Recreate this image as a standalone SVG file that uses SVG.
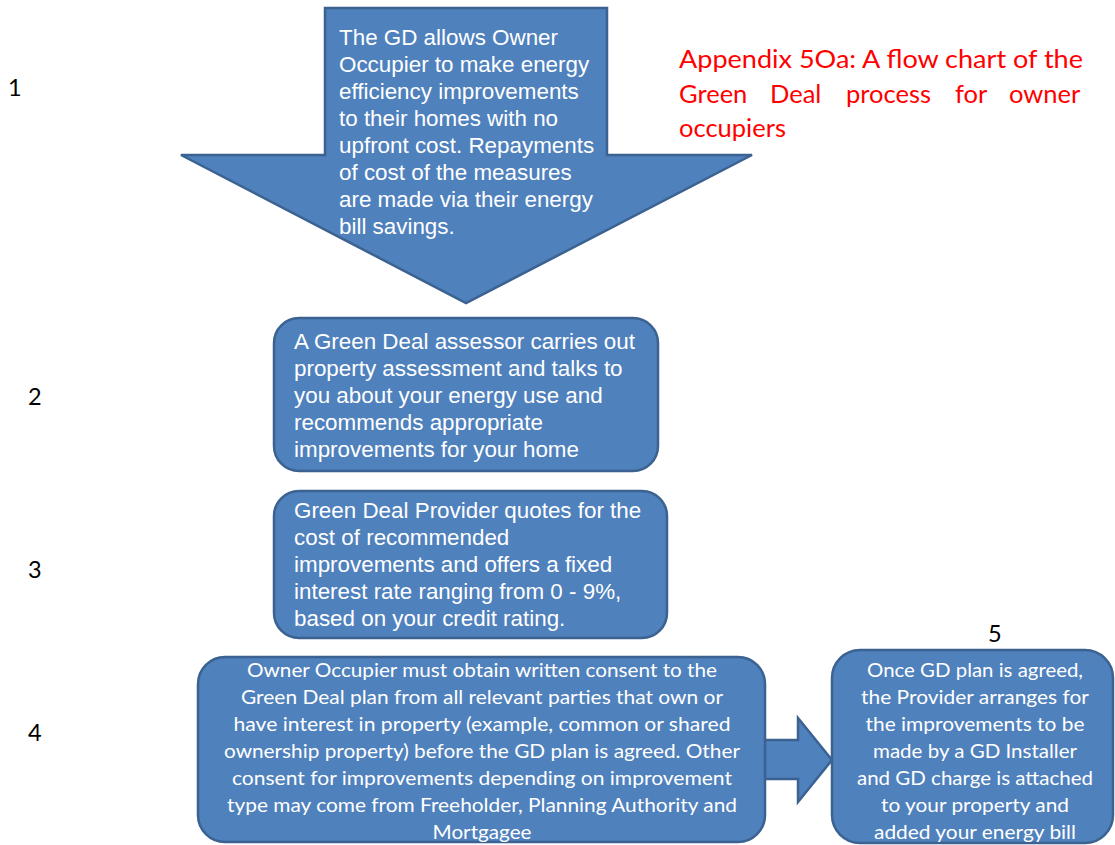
<svg xmlns="http://www.w3.org/2000/svg" width="1115" height="845" viewBox="0 0 1115 845">
<style>
.shape{fill:#4F81BD;stroke:#3B6291;stroke-width:2.5;stroke-linejoin:miter}
.ta{font-family:"Liberation Sans",Arial,sans-serif;font-size:22.4px;fill:#FFFFFF}
.tc{font-family:Lato,"Noto Sans",sans-serif;font-size:20px;fill:#FFFFFF;text-anchor:middle}
.num{font-family:Lato,"Noto Sans",sans-serif;font-size:23.5px;fill:#000000}
.title{font-family:Lato,"Noto Sans",sans-serif;font-size:25.5px;fill:#FF0000}
</style>
<rect width="1115" height="845" fill="#FFFFFF"/>
<g id="labels">
<text class="num" x="8" y="96">1</text>
<text class="num" x="28" y="405">2</text>
<text class="num" x="28" y="578">3</text>
<text class="num" x="28" y="741">4</text>
<text class="num" x="988" y="642">5</text>
</g>
<g id="title">
<text class="title" x="679" y="68" textLength="404" lengthAdjust="spacingAndGlyphs">Appendix 5Oa: A flow chart of the</text>
<text class="title" y="103"><tspan x="679">Green</tspan><tspan x="770">Deal</tspan><tspan x="846">process</tspan><tspan x="955">for</tspan><tspan x="1009">owner</tspan></text>
<text class="title" x="679" y="137">occupiers</text>
</g>
<g id="connectors">
<polygon class="shape" points="762,740 798,740 798,718 832,760 798,802 798,779 762,779"/>
</g>
<g id="node1">
<polygon class="shape" points="325,8 607,8 607,155 752,155 466,303 181,155 325,155"/>
<text class="ta">
<tspan x="339" y="45">The GD allows Owner</tspan>
<tspan x="339" y="72">Occupier to make energy</tspan>
<tspan x="339" y="99">efficiency improvements</tspan>
<tspan x="339" y="126">to their homes with no</tspan>
<tspan x="339" y="153">upfront cost. Repayments</tspan>
<tspan x="339" y="180">of cost of the measures</tspan>
<tspan x="339" y="207">are made via their energy</tspan>
<tspan x="339" y="234">bill savings.</tspan>
</text>
</g>
<g id="node2">
<rect class="shape" x="274" y="318" width="384" height="153" rx="25"/>
<text class="ta">
<tspan x="294" y="349">A Green Deal assessor carries out</tspan>
<tspan x="294" y="376">property assessment and talks to</tspan>
<tspan x="294" y="403">you about your energy use and</tspan>
<tspan x="294" y="430">recommends appropriate</tspan>
<tspan x="294" y="457">improvements for your home</tspan>
</text>
</g>
<g id="node3">
<rect class="shape" x="274" y="491" width="393" height="147" rx="25"/>
<text class="ta">
<tspan x="294" y="518">Green Deal Provider quotes for the</tspan>
<tspan x="294" y="545">cost of recommended</tspan>
<tspan x="294" y="572">improvements and offers a fixed</tspan>
<tspan x="294" y="599">interest rate ranging from 0 - 9%,</tspan>
<tspan x="294" y="626">based on your credit rating.</tspan>
</text>
</g>
<g id="node4">
<rect class="shape" x="198" y="657" width="567" height="185" rx="27"/>
<text class="tc" x="482" y="677" textLength="470" lengthAdjust="spacingAndGlyphs">Owner Occupier must obtain written consent to the</text>
<text class="tc" x="482" y="704" textLength="482" lengthAdjust="spacingAndGlyphs">Green Deal plan from all relevant parties that own or</text>
<text class="tc" x="482" y="731" textLength="497" lengthAdjust="spacingAndGlyphs">have interest in property (example, common or shared</text>
<text class="tc" x="482" y="758" textLength="516" lengthAdjust="spacingAndGlyphs">ownership property) before the GD plan is agreed. Other</text>
<text class="tc" x="482" y="785" textLength="500" lengthAdjust="spacingAndGlyphs">consent for improvements depending on improvement</text>
<text class="tc" x="482" y="812" textLength="510" lengthAdjust="spacingAndGlyphs">type may come from Freeholder, Planning Authority and</text>
<text class="tc" x="482" y="839" textLength="99" lengthAdjust="spacingAndGlyphs">Mortgagee</text>
</g>
<g id="node5">
<rect class="shape" x="832" y="650" width="281" height="193" rx="28"/>
<text class="tc" x="975" y="677" textLength="216" lengthAdjust="spacingAndGlyphs">Once GD plan is agreed,</text>
<text class="tc" x="975" y="704" textLength="228" lengthAdjust="spacingAndGlyphs">the Provider arranges for</text>
<text class="tc" x="975" y="731" textLength="219" lengthAdjust="spacingAndGlyphs">the improvements to be</text>
<text class="tc" x="975" y="758" textLength="204" lengthAdjust="spacingAndGlyphs">made by a GD Installer</text>
<text class="tc" x="975" y="785" textLength="236" lengthAdjust="spacingAndGlyphs">and GD charge is attached</text>
<text class="tc" x="975" y="812" textLength="188" lengthAdjust="spacingAndGlyphs">to your property and</text>
<text class="tc" x="975" y="839" textLength="202" lengthAdjust="spacingAndGlyphs">added your energy bill</text>
</g>
</svg>
